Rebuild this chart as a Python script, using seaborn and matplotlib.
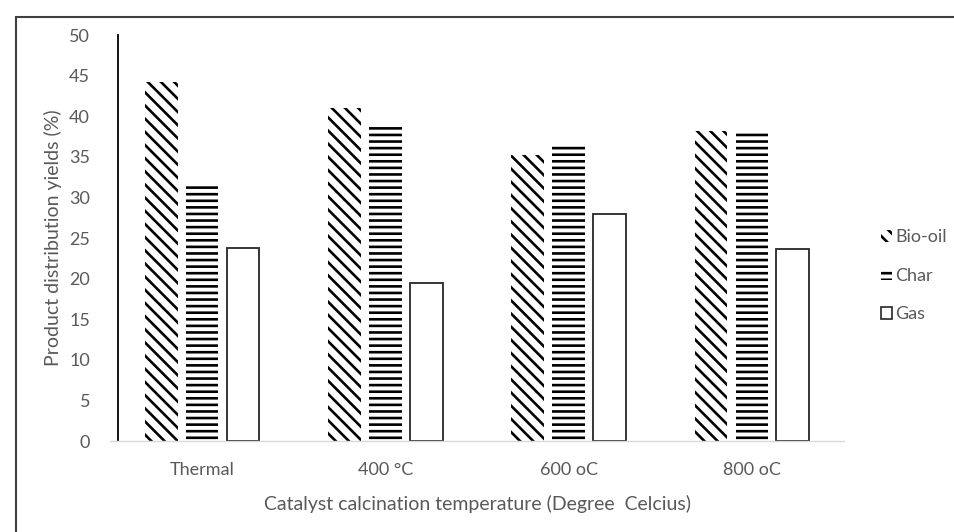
import numpy as np
import pandas as pd
import seaborn as sns
import matplotlib.pyplot as plt
from matplotlib.patches import Patch, Rectangle

temps = ['Thermal', '400 °C', '600 oC', '800 oC']
products = ['Bio-oil', 'Char', 'Gas']
bio_oil = [44.2, 41.0, 35.2, 38.2]
char = [31.5, 38.8, 36.3, 37.9]
gas = [23.8, 19.5, 28.0, 23.6]

df = pd.DataFrame({
    'temp': temps * 3,
    'product': ['Bio-oil'] * 4 + ['Char'] * 4 + ['Gas'] * 4,
    'yield': bio_oil + char + gas,
})

# lower dpi so the hatch tile gets smaller; sizes below are scaled back by S
DPI = 79
S = 100 / DPI

sns.set_style('white')
plt.rcParams['font.family'] = ['Lato', 'DejaVu Sans']
plt.rcParams['hatch.linewidth'] = 1.9 * S

grey = '#595959'
fig = plt.figure(figsize=(954 / DPI, 532 / DPI), dpi=DPI)
ax = fig.add_axes([0.1158, 0.171, 0.7684, 0.763])

sns.barplot(data=df, x='temp', y='yield', hue='product', order=temps, hue_order=products,
            palette=['white'] * 3, width=0.67, gap=0.2, edgecolor='black', linewidth=1.3 * S,
            legend=False, ax=ax)

hatches = ['\\\\', '--', '']
for cont, h in zip(ax.containers, hatches):
    for bar in cont:
        bar.set_hatch(h)
        if h:
            bar.set_linewidth(0)
        else:
            bar.set_edgecolor('#262626')

ax.set_ylim(0, 50)
ax.set_xlim(-0.5, 3.5)
ax.set_yticks(range(0, 51, 5))
ax.tick_params(axis='y', length=0, pad=20 * S, labelsize=13 * S, labelcolor=grey)
ax.tick_params(axis='x', length=0, pad=15 * S, labelsize=13 * S, labelcolor=grey)
ax.set_xlabel('Catalyst calcination temperature (Degree  Celcius)', fontsize=14 * S, color=grey,
              labelpad=12 * S)
ax.set_ylabel('Product distribution yields (%)', fontsize=14 * S, color=grey, labelpad=5 * S)

for s in ['top', 'right']:
    ax.spines[s].set_visible(False)
ax.spines['left'].set_position(('axes', 0.01))
ax.spines['left'].set_color('black')
ax.spines['left'].set_linewidth(1.3 * S)
ax.spines['bottom'].set_color('#d9d9d9')
ax.spines['bottom'].set_linewidth(1 * S)

handles = [Patch(facecolor='white', edgecolor='black', linewidth=0, hatch='\\\\'),
           Patch(facecolor='white', edgecolor='black', linewidth=0, hatch='--'),
           Patch(facecolor='white', edgecolor='#262626', linewidth=1.2 * S)]
leg = fig.legend(handles, products, loc='center left', bbox_to_anchor=(0.923, 0.482),
                 frameon=False, fontsize=13 * S, labelcolor=grey, handlelength=0.65,
                 handleheight=0.65, handletextpad=0.15, labelspacing=1.25, borderpad=0,
                 borderaxespad=0)

# outer chart frame
fig.patches.append(Rectangle((16 / 954, -0.02), 1.0, 1 - 17 / 532 + 0.02, transform=fig.transFigure,
                             fill=False, edgecolor='#404040', linewidth=1.5 * S))

fig.savefig('out.png', dpi=DPI, facecolor='white')
